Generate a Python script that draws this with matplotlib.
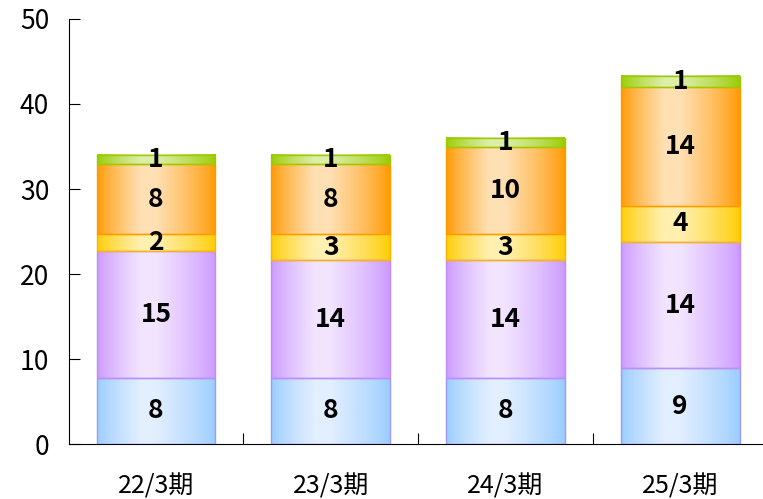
import matplotlib
matplotlib.use('Agg')
import matplotlib.pyplot as plt
import numpy as np
from matplotlib import colors

#%% data
periods = ['22/3期', '23/3期', '24/3期', '25/3期']
seg1 = [7.8, 7.8, 7.8, 8.9]      # blue
seg2 = [14.9, 13.8, 13.8, 14.9]  # purple
seg3 = [2.0, 3.1, 3.1, 4.2]      # yellow
seg4 = [8.2, 8.2, 10.2, 14.0]    # orange
seg5 = [1.1, 1.1, 1.1, 1.3]      # green
lab1 = [8, 8, 8, 9]
lab2 = [15, 14, 14, 14]
lab3 = [2, 3, 3, 4]
lab4 = [8, 8, 10, 14]
lab5 = [1, 1, 1, 1]

series = [seg1, seg2, seg3, seg4, seg5]
labels = [lab1, lab2, lab3, lab4, lab5]
# edge colour, light centre colour, border colour
styles = [('#99CCFF', '#E2EFFF', '#9999FF'),
          ('#CC99FF', '#F2E4FF', '#C08CF5'),
          ('#FFCC00', '#FFF0B0', '#FFB400'),
          ('#FF9900', '#FFE0B4', '#FF9900'),
          ('#99CC00', '#DDEEAA', '#99CC00')]

cjk = ['Noto Sans CJK JP', 'DejaVu Sans']

fig = plt.figure(figsize=(7.63, 4.99), dpi=100)
ax = fig.add_axes([0.0900, 0.110, 0.9160, 0.852])

x = np.arange(len(periods))
t = np.linspace(0, 1, 200)
l = np.where(t < 0.42, t / 0.42, (1 - t) / 0.58)
l = np.clip(l * 1.15, 0, 1) ** 0.8

bottom = np.zeros(len(periods))
for vals, labs, (c_edge, c_light, c_border) in zip(series, labels, styles):
    bars = ax.bar(x, vals, 0.68, bottom=bottom, facecolor='none',
                  edgecolor=c_border, linewidth=1.0, zorder=3)
    ce = np.array(colors.to_rgb(c_edge))
    cl = np.array(colors.to_rgb(c_light))
    grad = ce[None, :] + (cl - ce)[None, :] * l[:, None]
    grad = grad[None, :, :]
    for b, lab in zip(bars, labs):
        x0, y0 = b.get_x(), b.get_y()
        ax.imshow(grad, extent=[x0, x0 + b.get_width(), y0, y0 + b.get_height()],
                  aspect='auto', zorder=2, interpolation='bilinear')
        ax.text(x0 + b.get_width() / 2, y0 + b.get_height() / 2, str(lab),
                ha='center', va='center', fontsize=19, fontweight='bold',
                family=cjk, zorder=4)
    bottom = bottom + np.array(vals)

ax.set_xlim(-0.5, 3.5)
ax.set_ylim(0, 50)
ax.set_yticks(range(0, 51, 10))
ax.tick_params(axis='y', direction='in', length=8, labelsize=19, pad=14)
ax.set_xticks([0.5, 1.5, 2.5])
ax.set_xticklabels([])
ax.tick_params(axis='x', which='major', direction='in', length=8)
ax.set_xticks(x, minor=True)
ax.set_xticklabels(periods, minor=True)
ax.tick_params(axis='x', which='minor', length=0, labelsize=18, pad=21)
for lbl in ax.get_yticklabels() + ax.get_xticklabels(minor=True):
    lbl.set_family(cjk)
ax.spines['top'].set_visible(False)
ax.spines['right'].set_visible(False)

fig.savefig('out.png', dpi=100)
